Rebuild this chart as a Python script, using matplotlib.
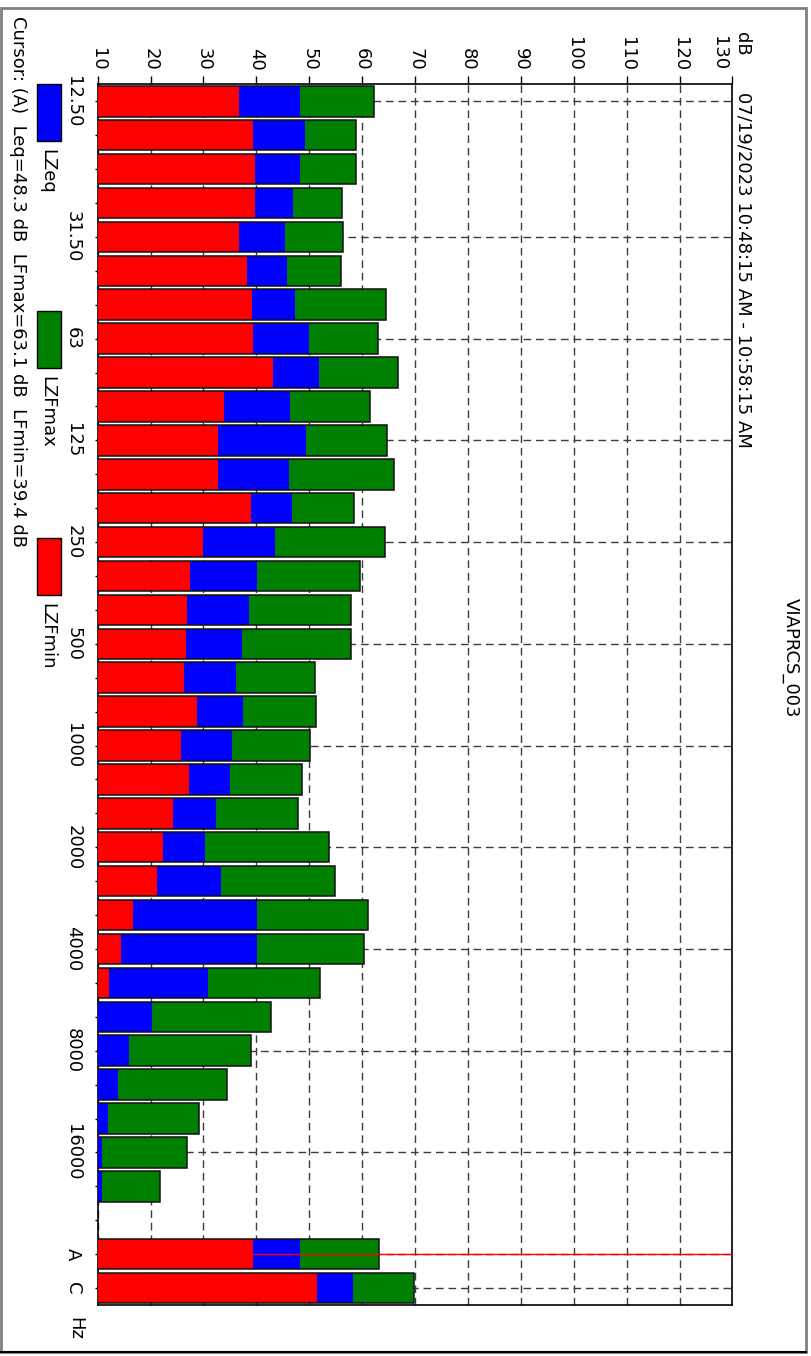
import numpy as np
import matplotlib
matplotlib.use("Agg")
import matplotlib.pyplot as plt
from matplotlib.patches import Rectangle
from matplotlib.lines import Line2D

nan = np.nan

# 1/3-octave bands (Hz), a spacer slot, then the A- and C-weighted totals
bands = ["12.5", "16", "20", "25", "31.5", "40", "50", "63", "80", "100",
         "125", "160", "200", "250", "315", "400", "500", "630", "800",
         "1000", "1250", "1600", "2000", "2500", "3150", "4000", "5000",
         "6300", "8000", "10000", "12500", "16000", "20000", "", "A", "C"]

# levels in dB (nan = below the 10 dB floor / empty slot)
lzfmin = [36.7, 39.4, 39.7, 39.7, 36.7, 38.2, 39.2, 39.4, 43.1, 33.8,
          32.7, 32.7, 39.0, 29.9, 27.4, 26.9, 26.6, 26.3, 28.8,
          25.8, 27.3, 24.2, 22.4, 21.2, 16.7, 14.4, 12.1,
          nan, nan, nan, nan, nan, nan, nan, 39.4, 51.5]
lzeq = [48.2, 49.2, 48.2, 47.0, 45.4, 45.8, 47.3, 49.9, 51.8, 46.3,
        49.3, 46.2, 46.7, 43.5, 40.1, 38.6, 37.2, 36.1, 37.5,
        35.3, 35.0, 32.3, 30.3, 33.4, 40.1, 40.1, 30.8,
        20.2, 15.9, 13.8, 11.9, 10.9, 10.8, nan, 48.3, 58.3]
lzfmax = [62.2, 58.8, 58.8, 56.1, 56.3, 55.9, 64.5, 62.9, 66.7, 61.4,
          64.6, 66.1, 58.4, 64.3, 59.5, 57.8, 57.9, 51.0, 51.2,
          50.2, 48.7, 47.8, 53.7, 54.8, 61.1, 60.3, 52.0,
          42.8, 38.9, 34.5, 29.2, 26.8, 21.8, nan, 63.1, 69.7]

tick_bands = ["12.5", "31.5", "63", "125", "250", "500", "1000", "2000",
              "4000", "8000", "16000", "A", "C"]
tick_labels = ["12.50", "31.50", "63", "125", "250", "500", "1000", "2000",
               "4000", "8000", "16000", "A", "C"]
db_ticks = [10, 20, 30, 40, 50, 60, 70, 80, 90, 100, 110, 120, 130]

title = "VIAPRCS_003"
period = "07/19/2023 10:48:15 AM - 10:58:15 AM"
cursor = "Cursor: (A)  Leq=48.3 dB  LFmax=63.1 dB  LFmin=39.4 dB"
series = [("LZeq", "#0000ff"), ("LZFmax", "#008000"), ("LZFmin", "#ff0000")]

plt.rcParams["font.family"] = ["DejaVu Sans"]
FS = 13

W, H = 812, 1356
fig = plt.figure(figsize=(W / 100, H / 100), dpi=100)


def fx(x):
    return x / W


def fy(y):
    return 1 - y / H


# plot area (page is laid out in portrait, text runs top-to-bottom)
L, R, T, B = 97.7, 732.5, 84.3, 1305.0
ax = fig.add_axes([fx(L), fy(B), (R - L) / W, (B - T) / H])

ypos = np.arange(len(bands))
bh = 0.9
ax.barh(ypos, lzfmax, height=bh, color="#008000", linewidth=0, zorder=2)
ax.barh(ypos, lzeq, height=bh, color="#0000ff", linewidth=0, zorder=3)
ax.barh(ypos, lzfmin, height=bh, color="#ff0000", linewidth=0, zorder=4)
ax.barh(ypos, lzfmax, height=bh, fill=False, edgecolor="#111111",
        linewidth=1.1, zorder=5)

# cursor line on the A-weighted total
ax.axhline(bands.index("A"), color="#ff0000", linewidth=1.0, zorder=6)

ax.set_xlim(db_ticks[0], db_ticks[-1])
ax.set_ylim(len(bands) - 0.5, -0.5)

# dB scale along the top
ax.xaxis.tick_top()
ax.set_xticks(db_ticks)
ax.set_xticklabels([str(v) if v != db_ticks[-1] else "" for v in db_ticks])
ax.tick_params(axis="x", direction="out", length=5.8, width=1, pad=4,
               labelsize=FS, labelrotation=-90)

# band axis
ax.set_yticks([bands.index(b) for b in tick_bands])
ax.set_yticklabels(tick_labels)
ax.set_yticks(ypos, minor=True)
ax.tick_params(axis="y", which="both", direction="out", length=2.2, width=1,
               pad=9, labelsize=FS, labelrotation=-90)
for lbl in ax.get_yticklabels():
    lbl.set_va("center")

ax.set_axisbelow(True)
ax.grid(True, which="major", color="#3c3c3c", linewidth=1.0,
        linestyle=(0, (5.5, 3.5)))
for s in ax.spines.values():
    s.set_linewidth(1.2)
    s.set_color("black")

# last dB label sits next to the unit
fig.text(fx(719), fy(70), str(db_ticks[-1]), rotation=-90, ha="center",
         va="bottom", fontsize=FS)
fig.text(fx(742), fy(32), "dB", rotation=-90, ha="center", va="top",
         fontsize=FS)
fig.text(fx(744), fy(92), period, rotation=-90, ha="center", va="top",
         fontsize=FS)
fig.text(fx(791), fy(658), title, rotation=-90, ha="center", va="center",
         fontsize=FS)
fig.text(fx(75), fy(1328), "Hz", rotation=-90, ha="center", va="center",
         fontsize=FS)
fig.text(fx(18), fy(16), cursor, rotation=-90, ha="center", va="top",
         fontsize=FS)

# legend swatches
for i, (name, col) in enumerate(series):
    y0 = 84 + i * 227
    fig.patches.append(Rectangle((fx(37), fy(y0 + 57)), 24 / W, 57 / H,
                                 transform=fig.transFigure, facecolor=col,
                                 edgecolor="black", linewidth=1))
    fig.text(fx(47), fy(y0 + 65), name, rotation=-90, ha="center", va="top",
             fontsize=FS)

# page frame
fig.patches.append(Rectangle((fx(1), fy(1352)), 805 / W, 1344 / H,
                             transform=fig.transFigure, fill=False,
                             edgecolor="#808080", linewidth=2))
fig.lines.append(Line2D([fx(1), fx(806)], [fy(1352), fy(1352)],
                        transform=fig.transFigure, color="black",
                        linewidth=1.5))

fig.savefig("out.png", dpi=100)
